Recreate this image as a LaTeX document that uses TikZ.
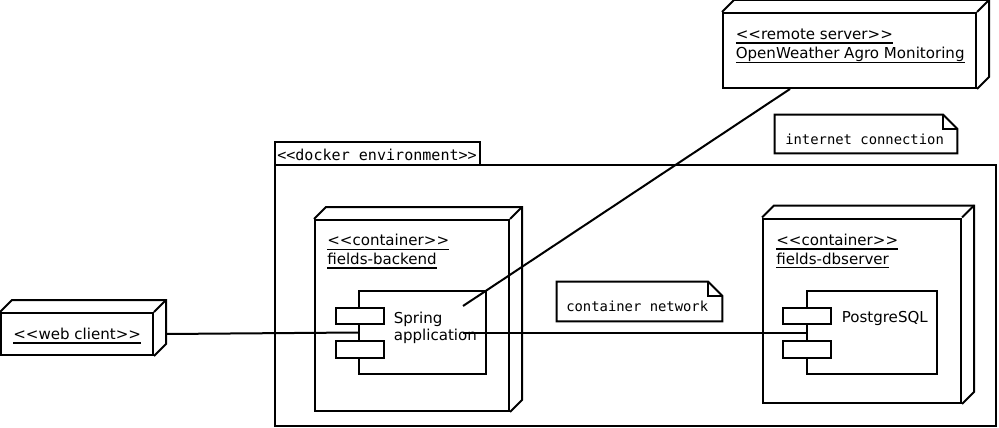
\documentclass[tikz,border=0pt]{standalone}
\usepackage{fontspec}
\setmainfont{DejaVu Sans}[Ligatures=TeXOff]
\setmonofont{DejaVu Sans Mono}
\usetikzlibrary{fit, calc}

% underlined name of an instance
\newcommand{\umlul}[1]{\setbox0\hbox{#1}\rlap{\rule[-3.1pt]{\wd0}{1.1pt}}\box0}
% top and right face of a node box
\newcommand{\nodeside}[1]{%
	\draw [umlline] (#1.north west) -- ++(12,-12) -- ($(#1.north east)+(12,-12)$) -- ($(#1.south east)+(12,-12)$) -- (#1.south east);
	\draw [umlline] (#1.north east) -- ++(12,-12);}
% note outline with the folded corner
\newcommand{\notefold}[1]{%
	\draw [umlline] (#1.north west) -- ($(#1.north east)+(-14,0)$) -- ($(#1.north east)+(0,14)$) -- (#1.south east) -- (#1.south west) -- cycle;
	\draw [umlline] ($(#1.north east)+(-14,0)$) |- ($(#1.north east)+(0,14)$);}

\begin{document}
\begin{tikzpicture}[x=0.75pt, y=-0.75pt,
	umlline/.style={line width=1.5pt},
	umlbox/.style={draw, line width=1.5pt, inner sep=0pt},
	umlfill/.style={umlbox, fill=white},
	umltext/.style={anchor=base west, inner sep=0pt, align=left, font=\fontsize{11.3}{13.9}\selectfont},
	monotext/.style={anchor=base west, inner sep=0pt, font=\ttfamily\fontsize{10.4}{12}\selectfont}]
		\useasboundingbox (0,0) rectangle (999,428);
		%docker frame
			\node [umlbox, fit={(275,142) (480,165)}] (tab) {};
			\node [umlbox, fit={(275,165) (996,426)}] (docker) {};
			\node [monotext, font=\ttfamily\fontsize{11.3}{13}\selectfont] (tabtxt) at (277,160.5) {<<docker environment>>};
		%web client
			\node [umlbox, fit={(1,313) (153,355)}] (web) {};
			\nodeside{web}
			\node [umltext] (webtxt) at (13,339.5) {\umlul{<<web client>>}};
		%remote server
			\node [umlbox, fit={(723,13) (976,88)}] (remote) {};
			\nodeside{remote}
			\node [umltext] (remotetxt) at (735.5,59) {\umlul{<<remote server>>}\\[0.6pt]\umlul{OpenWeather Agro Monitoring}};
		%backend container
			\node [umlbox, fit={(315,220) (509,411)}] (backend) {};
			\nodeside{backend}
			\node [umltext] (backendtxt) at (327,264.5) {\umlul{<<container>>}\\\umlul{fields-backend}};
			%spring component
			\node [umlbox, fit={(359,291) (486,374)}] (spring) {};
			\node [umlfill, fit={(336,307.5) (384,324)}] (springa) {};
			\node [umlfill, fit={(336,341) (384,357.5)}] (springb) {};
			\node [umltext] (springtxt) at (393.5,340.4) {Spring\\[-1.3pt]application};
		%db container
			\node [umlbox, fit={(763,218.5) (961,403)}] (dbserver) {};
			\nodeside{dbserver}
			\node [umltext] (dbtxt) at (776,264) {\umlul{<<container>>}\\\umlul{fields-dbserver}};
			%postgres component
			\node [umlbox, fit={(806.5,291) (937,374)}] (pg) {};
			\node [umlfill, fit={(783,307.5) (830.5,324)}] (pga) {};
			\node [umlfill, fit={(783,341) (830.5,357.5)}] (pgb) {};
			\node [umltext] (pgtxt) at (841.5,322.5) {PostgreSQL};
		%notes
			\node [inner sep=0pt, fit={(775,115) (957,153)}] (inet) {};
			\notefold{inet}
			\node [monotext] (inettxt) at (785,144) {internet connection};
			\node [inner sep=0pt, fit={(557,282) (722,321)}] (lan) {};
			\notefold{lan}
			\node [monotext] (lantxt) at (566,311) {container network};
		%links
			\coordinate (netend) at (463,306);
			\coordinate (lanend) at (463,332.5);
			\draw [umlline] (web.east) ++(12,0) -- (spring.west);
			\draw [umlline] (lanend) -- (pg.west);
			\draw [umlline] (netend) -- ($(remote.south west)+(68,0)$);
		\end{tikzpicture}
\end{document}
